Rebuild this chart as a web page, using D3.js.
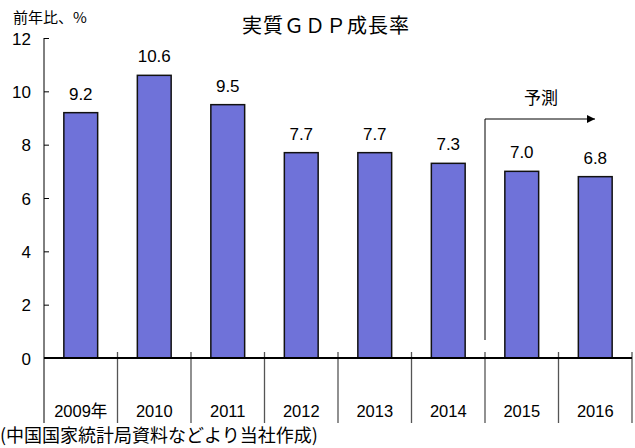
<!DOCTYPE html>
<html lang="ja">
<head>
<meta charset="UTF-8">
<title>実質GDP成長率</title>
<script src="https://d3js.org/d3.v7.min.js"></script>
<style>
  body { margin: 0; background: #fff; }
  svg { display: block; font-family: 'Liberation Sans', Arial, 'Noto Sans CJK JP', sans-serif; }
  .jp { font-family: 'Noto Sans CJK JP', sans-serif; }
</style>
</head>
<body>
<div id="chart"></div>
<script>
// data
var years = ['2009年', '2010', '2011', '2012', '2013', '2014', '2015', '2016'];
var growth = [9.2, 10.6, 9.5, 7.7, 7.7, 7.3, 7.0, 6.8];
var yTicks = [0, 2, 4, 6, 8, 10, 12];
var forecastFrom = '2015';

var svgW = 635, svgH = 448;
var plotLeft = 44, plotRight = 632, plotTop = 38, plotBottom = 358;

var svg = d3.select('#chart').append('svg')
    .attr('width', svgW)
    .attr('height', svgH);

var x = d3.scaleBand()
    .domain(years)
    .range([plotLeft, plotRight])
    .paddingInner(0)
    .paddingOuter(0);

var y = d3.scaleLinear()
    .domain([0, 12])
    .range([plotBottom, plotTop]);

var barW = x.bandwidth() * 0.46;

// title
svg.append('text')
    .attr('class', 'jp')
    .attr('x', 326)
    .attr('y', 33)
    .attr('text-anchor', 'middle')
    .style('font-size', '20px')
    .style('letter-spacing', '1px')
    .text('実質ＧＤＰ成長率');

// unit label
svg.append('text')
    .attr('class', 'jp')
    .attr('x', 13)
    .attr('y', 23)
    .style('font-size', '15px')
    .text('前年比、%');

// y axis ticks
var yAxis = svg.append('g')
    .attr('transform', 'translate(' + plotLeft + ',0)')
    .call(d3.axisRight(y).tickValues(yTicks).tickSize(5).tickFormat(''));
yAxis.select('.domain').remove();
yAxis.selectAll('line').attr('stroke', '#000');

svg.append('line')
    .attr('x1', plotLeft).attr('x2', plotLeft)
    .attr('y1', y(12)).attr('y2', 423)
    .attr('stroke', '#000').attr('stroke-width', 1);

svg.selectAll('.ylab')
    .data(yTicks)
    .enter().append('text')
    .attr('class', 'ylab')
    .attr('x', 31)
    .attr('y', d => y(d) + 6.5)
    .attr('text-anchor', 'end')
    .style('font-size', '17px')
    .text(d => d);

// category separators
svg.selectAll('.sep')
    .data(years)
    .enter().append('line')
    .attr('class', 'sep')
    .attr('x1', d => x(d) + x.bandwidth())
    .attr('x2', d => x(d) + x.bandwidth())
    .attr('y1', 352)
    .attr('y2', 423)
    .attr('stroke', '#555')
    .attr('stroke-width', 1.3);

// bars
svg.selectAll('.bar')
    .data(growth)
    .enter().append('rect')
    .attr('class', 'bar')
    .attr('x', (d, i) => x(years[i]) + (x.bandwidth() - barW) / 2)
    .attr('y', d => y(d))
    .attr('width', barW)
    .attr('height', d => y(0) - y(d))
    .attr('fill', '#6f72d9')
    .attr('stroke', '#111')
    .attr('stroke-width', 1.5);

// value labels
svg.selectAll('.val')
    .data(growth)
    .enter().append('text')
    .attr('class', 'val')
    .attr('x', (d, i) => x(years[i]) + x.bandwidth() / 2)
    .attr('y', d => y(d) - 13)
    .attr('text-anchor', 'middle')
    .style('font-size', '17px')
    .text(d => d.toFixed(1));

// x axis line
svg.append('line')
    .attr('x1', plotLeft).attr('x2', plotRight)
    .attr('y1', y(0)).attr('y2', y(0))
    .attr('stroke', '#000').attr('stroke-width', 2);

// category labels
svg.selectAll('.xlab')
    .data(years)
    .enter().append('text')
    .attr('class', 'xlab')
    .attr('x', d => x(d) + x.bandwidth() / 2)
    .attr('y', 417)
    .attr('text-anchor', 'middle')
    .style('font-size', '16.5px')
    .text(d => d);

// forecast arrow
var fx = x(forecastFrom);
svg.append('defs').append('marker')
    .attr('id', 'arrow')
    .attr('viewBox', '0 0 10 10')
    .attr('refX', 10).attr('refY', 5)
    .attr('markerWidth', 10).attr('markerHeight', 8)
    .attr('markerUnits', 'userSpaceOnUse')
    .attr('orient', 'auto')
    .append('path').attr('d', 'M0,0 L10,5 L0,10 Z').attr('fill', '#000');

svg.append('path')
    .attr('d', 'M' + fx + ',' + 340 + ' V' + 119 + ' H' + 595)
    .attr('fill', 'none')
    .attr('stroke', '#000')
    .attr('stroke-width', 1)
    .attr('marker-end', 'url(#arrow)');

svg.append('text')
    .attr('class', 'jp')
    .attr('x', 541)
    .attr('y', 104)
    .attr('text-anchor', 'middle')
    .style('font-size', '17px')
    .text('予測');

// source
svg.append('text')
    .attr('class', 'jp')
    .attr('x', 0)
    .attr('y', 442)
    .style('font-size', '18px')
    .text('(中国国家統計局資料などより当社作成)');
</script>
</body>
</html>
